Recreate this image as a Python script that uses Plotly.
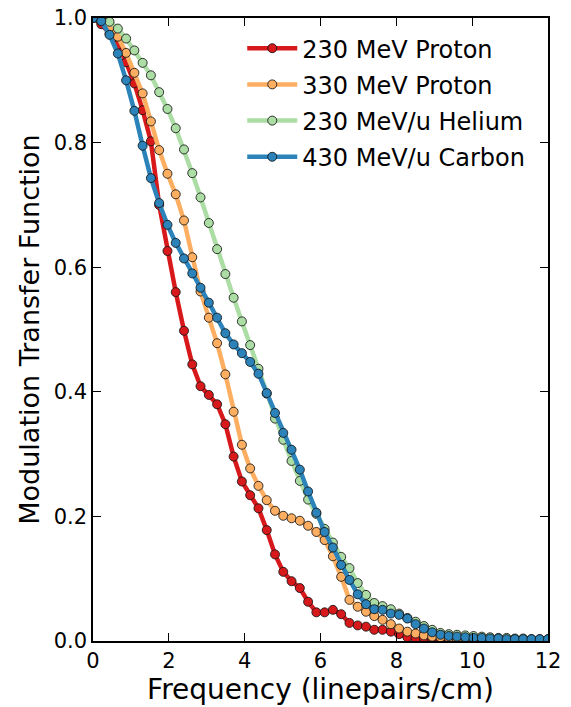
import plotly.graph_objects as go

# Spatial frequency samples (linepairs/cm)
freq = [0.0, 0.218, 0.436, 0.655, 0.873, 1.091, 1.309, 1.527, 1.745, 1.964,
        2.182, 2.4, 2.618, 2.836, 3.055, 3.273, 3.491, 3.709, 3.927, 4.145,
        4.364, 4.582, 4.8, 5.018, 5.236, 5.455, 5.673, 5.891, 6.109, 6.327,
        6.545, 6.764, 6.982, 7.2, 7.418, 7.636, 7.855, 8.073, 8.291, 8.509,
        8.727, 8.945, 9.164, 9.382, 9.6, 9.818, 10.036, 10.255, 10.473, 10.691,
        10.909, 11.127, 11.345, 11.564, 11.782, 12.0]

mtf_proton_230 = [1.0, 0.990, 0.975, 0.957, 0.929, 0.895, 0.852, 0.802, 0.700, 0.626,
                  0.560, 0.498, 0.444, 0.409, 0.395, 0.380, 0.348, 0.296, 0.256, 0.234,
                  0.213, 0.178, 0.139, 0.111, 0.096, 0.085, 0.063, 0.046, 0.046, 0.050,
                  0.043, 0.029, 0.025, 0.023, 0.018, 0.018, 0.015, 0.011, 0.006, 0.004,
                  0.005, 0.003, 0.003, 0.002, 0.002, 0.002, 0.002, 0.001, 0.001, 0.001,
                  0.001, 0.001, 0.001, 0.001, 0.001, 0.001]

mtf_proton_330 = [1.0, 0.995, 0.985, 0.970, 0.944, 0.912, 0.879, 0.834, 0.788, 0.750,
                  0.717, 0.675, 0.616, 0.561, 0.519, 0.478, 0.428, 0.368, 0.315, 0.277,
                  0.249, 0.226, 0.209, 0.201, 0.197, 0.193, 0.185, 0.175, 0.162, 0.136,
                  0.103, 0.066, 0.055, 0.047, 0.040, 0.034, 0.027, 0.020, 0.015, 0.012,
                  0.009, 0.007, 0.006, 0.005, 0.004, 0.004, 0.003, 0.003, 0.002, 0.002,
                  0.002, 0.002, 0.002, 0.002, 0.002, 0.002]

mtf_helium_230 = [1.0, 0.998, 0.994, 0.983, 0.967, 0.948, 0.928, 0.908, 0.881, 0.854,
                  0.823, 0.789, 0.751, 0.712, 0.671, 0.629, 0.589, 0.551, 0.513, 0.475,
                  0.437, 0.397, 0.357, 0.323, 0.289, 0.257, 0.227, 0.204, 0.180, 0.158,
                  0.135, 0.117, 0.093, 0.074, 0.061, 0.056, 0.051, 0.044, 0.037, 0.031,
                  0.024, 0.018, 0.013, 0.011, 0.010, 0.009, 0.008, 0.007, 0.006, 0.005,
                  0.005, 0.004, 0.004, 0.003, 0.003, 0.003]

mtf_carbon_430 = [1.0, 0.995, 0.973, 0.943, 0.900, 0.851, 0.795, 0.743, 0.703, 0.668,
                  0.639, 0.614, 0.590, 0.567, 0.543, 0.519, 0.494, 0.476, 0.462, 0.448,
                  0.429, 0.398, 0.366, 0.334, 0.307, 0.275, 0.240, 0.206, 0.175, 0.150,
                  0.122, 0.098, 0.075, 0.059, 0.051, 0.050, 0.044, 0.042, 0.036, 0.027,
                  0.020, 0.014, 0.010, 0.008, 0.007, 0.006, 0.005, 0.005, 0.004, 0.004,
                  0.003, 0.003, 0.003, 0.003, 0.003, 0.003]

series_names = ["230 MeV Proton", "330 MeV Proton", "230 MeV/u Helium", "430 MeV/u Carbon"]
series_values = [mtf_proton_230, mtf_proton_330, mtf_helium_230, mtf_carbon_430]
series_colors = ["#d7191c", "#fdae61", "#abdda4", "#2b83ba"]

x_ticks = [0, 2, 4, 6, 8, 10, 12]
y_ticks = [0.0, 0.2, 0.4, 0.6, 0.8, 1.0]

FONT = "DejaVu Sans"

fig = go.Figure()
for i, (name, vals, col) in enumerate(zip(series_names, series_values, series_colors)):
    fig.add_trace(go.Scatter(
        x=freq, y=vals, name=name, mode="lines+markers", legendgroup=f"g{i}",
        line=dict(color=col, width=4.5),
        marker=dict(symbol="circle", size=9, color=col,
                    line=dict(color="rgba(20,20,20,0.85)", width=1)),
    ))

axis_common = dict(
    showgrid=False, zeroline=False, showline=True, linecolor="black",
    linewidth=1.5, mirror="allticks", ticks="inside", ticklen=8,
    tickwidth=1, tickcolor="black", automargin=False,
    tickfont=dict(family=FONT, size=21, color="black"),
)

fig.update_xaxes(range=[0, 12], tickvals=x_ticks, ticktext=[str(v) for v in x_ticks],
                 title=dict(text="Frequency (linepairs/cm)",
                            font=dict(family=FONT, size=28, color="black"), standoff=6),
                 **axis_common)
fig.update_yaxes(range=[0, 1], tickvals=y_ticks, ticktext=[f"{v:.1f}" for v in y_ticks],
                 title=dict(text="Modulation Transfer Function",
                            font=dict(family=FONT, size=27, color="black"), standoff=6),
                 **axis_common)

fig.update_layout(
    width=571, height=707,
    margin=dict(l=93, r=23, t=18, b=66),
    paper_bgcolor="white", plot_bgcolor="white",
    font=dict(family=FONT, color="black"),
    legend=dict(x=0.328, y=0.987, xanchor="left", yanchor="top",
                bgcolor="rgba(255,255,255,0)", borderwidth=0,
                font=dict(family=FONT, size=24, color="black"),
                itemwidth=50, tracegroupgap=2),
)

fig.write_html("out.html")
